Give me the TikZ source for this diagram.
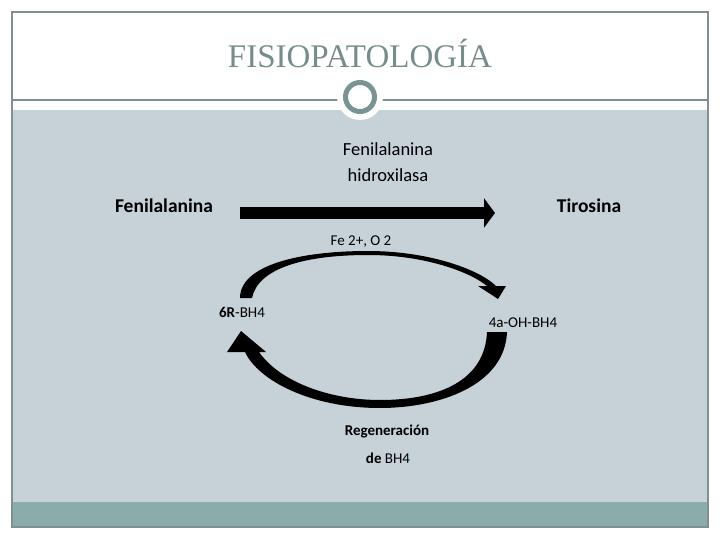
\documentclass[tikz,border=0pt]{standalone}
\usepackage{fontspec}
\setmainfont{Carlito}
\newfontfamily\titlefont{Liberation Serif}
\usepackage{tikz}
\usetikzlibrary{arrows.meta, positioning}
\definecolor{slidegray}{RGB}{198, 210, 216}
\definecolor{bandteal}{RGB}{138, 172, 171}
\definecolor{framegray}{RGB}{128, 143, 143}
\definecolor{ringgray}{RGB}{122, 148, 148}
\definecolor{titlegray}{RGB}{120, 140, 140}

\tikzset{
    lbl/.style={inner sep=0pt, anchor=base},
    bigtxt/.style={lbl, font=\fontsize{19.5}{23}\selectfont\bfseries},
    smalltxt/.style={lbl, font=\fontsize{15}{18}\selectfont}
}

\begin{document}
\begin{tikzpicture}[
    x=1pt, y=-1pt
]
\useasboundingbox (0,0) rectangle (720,540);

% Slide background
\fill[white] (0,0) rectangle (720,540);
\fill[slidegray] (12,110) rectangle (708,502);
\fill[bandteal] (12,502) rectangle (708,527);
\draw[framegray, line width=1.2pt] (12,100) -- (708,100);
\fill[white] (360,97) circle (23);
\draw[ringgray, line width=5pt] (360,97) circle (14.5);
\draw[framegray, line width=1.2pt] (12,12) rectangle (708,527);

% Title
\node[lbl, text=titlegray, font=\titlefont\fontsize{33}{38}\selectfont] (title) at (360,68) {FISIOPATOLOGÍA};

% Reaction
\node[lbl, align=center, font=\fontsize{18.5}{25.5}\selectfont] (enzima) at (388,181.5) {Fenilalanina\\hidroxilasa};
\node[bigtxt] (phe) at (164,212) {Fenilalanina};
\node[bigtxt] (tyr) at (589,212) {Tirosina};
\coordinate (flecha-ini) at (240,213);
\coordinate (flecha-fin) at (495,213);
\draw[line width=12pt, -{Triangle[length=11pt, width=29pt]}] (flecha-ini) -- (flecha-fin);
\node[smalltxt] (cofactor) at (361,245) {Fe 2+, O 2};

% Cycle labels
\node[smalltxt] (bh4) at (242,317) {\textbf{6R}-BH4};
\node[smalltxt] (ohbh4) at (523,327) {4a-OH-BH4};
\node[smalltxt, font=\fontsize{15}{18}\selectfont\bfseries] (regen) at (387,435) {Regeneración};
\node[smalltxt] (regen2) at (388,463) {\textbf{de} BH4};

% Upper curved arrow
\fill (240,298) .. controls (240,265) and (300,251) .. (368,251)
    .. controls (430,251) and (480,270) .. (496,286) -- (506,286) -- (498,299)
    -- (478,286) -- (487,286)
    .. controls (470,272) and (425,255) .. (368,255)
    .. controls (305,255) and (258,268) .. (252,298) -- cycle;

% Lower curved arrow
\fill (507,332) .. controls (505,385) and (440,408) .. (380,408)
    .. controls (310,408) and (258,380) .. (245,352) -- (227,352) -- (241,331)
    -- (266,352) -- (259,352)
    .. controls (280,382) and (330,400) .. (380,400)
    .. controls (440,400) and (485,380) .. (487,332) -- cycle;

\end{tikzpicture}
\end{document}
